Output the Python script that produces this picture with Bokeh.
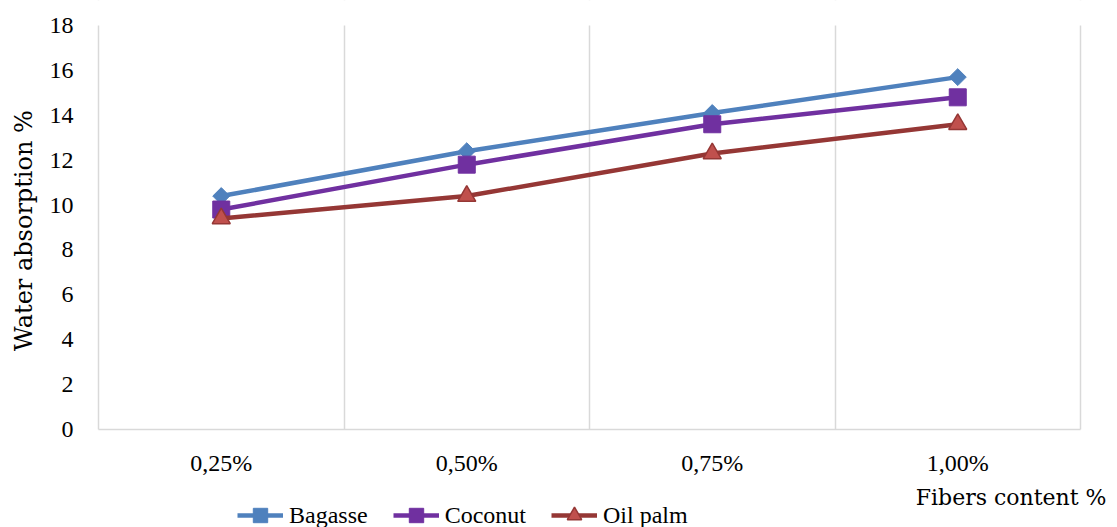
import math
from bokeh.plotting import figure
from bokeh.models import Range1d, FixedTicker, Legend, LegendItem, Label, BoxAnnotation
from bokeh.embed import file_html
from bokeh.resources import INLINE

categories = ["0,25%", "0,50%", "0,75%", "1,00%"]
bagasse = [10.4, 12.4, 14.1, 15.7]
coconut = [9.8, 11.8, 13.6, 14.8]
oil_palm = [9.4, 10.4, 12.3, 13.6]
y_ticks = [0, 2, 4, 6, 8, 10, 12, 14, 16, 18]

FONT = "Liberation Serif"
TITLE_FONT = "DejaVu Serif"
FS = "24px"

W, H = 1117, 527
# plot area in pixels (left, right, top, bottom)
PL, PR, PT, PB = 98, 1080, 25, 429
NCAT = len(categories)
YMAX = 18

xs = [i + 0.5 for i in range(NCAT)]

kx = NCAT / (PR - PL)
ky = YMAX / (PB - PT)
x_range = Range1d(-PL * kx, NCAT + (W - PR) * kx)
y_range = Range1d(-(H - PB) * ky, YMAX + PT * ky)

p = figure(width=W, height=H, output_backend="svg", toolbar_location=None,
           x_range=x_range, y_range=y_range,
           min_border_left=0, min_border_right=0, min_border_top=0, min_border_bottom=0)
p.outline_line_color = None
p.background_fill_color = "white"

# grids: vertical lines at category boundaries
p.xgrid.ticker = FixedTicker(ticks=list(range(0, NCAT + 1)))
p.xgrid.grid_line_color = "#D9D9D9"
p.xgrid.grid_line_width = 1.5
p.ygrid.grid_line_color = None
# hide grid outside the value range
p.add_layout(BoxAnnotation(top=0, level="underlay", fill_color="white", fill_alpha=1,
                           line_alpha=0))
p.add_layout(BoxAnnotation(bottom=YMAX, level="underlay", fill_color="white", fill_alpha=1,
                           line_alpha=0))

# x axis
p.xaxis.fixed_location = 0
p.xaxis.bounds = (0, NCAT)
p.xaxis.ticker = FixedTicker(ticks=xs)
p.xaxis.major_label_overrides = {x: c for x, c in zip(xs, categories)}
p.xaxis.axis_line_color = "#D9D9D9"
p.xaxis.axis_line_width = 1.5
p.xaxis.major_tick_line_color = None
p.xaxis.minor_tick_line_color = None
p.xaxis.major_tick_out = 0
p.xaxis.major_label_standoff = 20
p.xaxis.major_label_text_font = FONT
p.xaxis.major_label_text_font_size = FS
p.xaxis.major_label_text_color = "black"

# y axis
p.yaxis.fixed_location = 0
p.yaxis.bounds = (0, YMAX)
p.yaxis.ticker = FixedTicker(ticks=y_ticks)
p.yaxis.axis_line_color = None
p.yaxis.major_tick_line_color = None
p.yaxis.minor_tick_line_color = None
p.yaxis.major_tick_out = 0
p.yaxis.major_label_standoff = 25
p.yaxis.major_label_text_font = FONT
p.yaxis.major_label_text_font_size = FS
p.yaxis.major_label_text_color = "black"

BLUE = "#4F81BD"
PURPLE = "#7030A0"
RED_LINE = "#953735"
RED_FILL = "#C0504D"

l1 = p.line(xs, bagasse, line_color=BLUE, line_width=4.5)
m1 = p.scatter(xs, bagasse, marker="square", angle=math.pi / 4, size=12,
               fill_color=BLUE, line_color=BLUE)
l2 = p.line(xs, coconut, line_color=PURPLE, line_width=4.5)
m2 = p.scatter(xs, coconut, marker="square", size=17,
               fill_color=PURPLE, line_color=PURPLE)
l3 = p.line(xs, oil_palm, line_color=RED_LINE, line_width=4.5)
m3 = p.scatter(xs, oil_palm, marker="triangle", size=18,
               fill_color=RED_FILL, line_color=RED_LINE, line_width=1.5)

p.add_layout(Label(x=23, y=H - 230, x_units="screen", y_units="screen",
                   text="Water absorption %", angle=math.pi / 2,
                   text_align="center", text_baseline="middle",
                   text_font=TITLE_FONT, text_font_size="24px", text_color="black"))
p.add_layout(Label(x=1106, y=H - 497, x_units="screen", y_units="screen",
                   text="Fibers content %", text_align="right", text_baseline="middle",
                   text_font=TITLE_FONT, text_font_size="22px", text_color="black"))

legend = Legend(items=[
    LegendItem(label="Bagasse", renderers=[l1, m1]),
    LegendItem(label="Coconut", renderers=[l2, m2]),
    LegendItem(label="Oil palm", renderers=[l3, m3]),
], orientation="horizontal", location=(237, H - 533), padding=0, margin=0,
    spacing=25, glyph_width=46, glyph_height=36, label_height=20,
    label_standoff=6, border_line_color=None, background_fill_alpha=0,
    label_text_font=FONT, label_text_font_size=FS, label_text_color="black")
p.add_layout(legend, "center")

open("out.html", "w").write(file_html(p, INLINE))
